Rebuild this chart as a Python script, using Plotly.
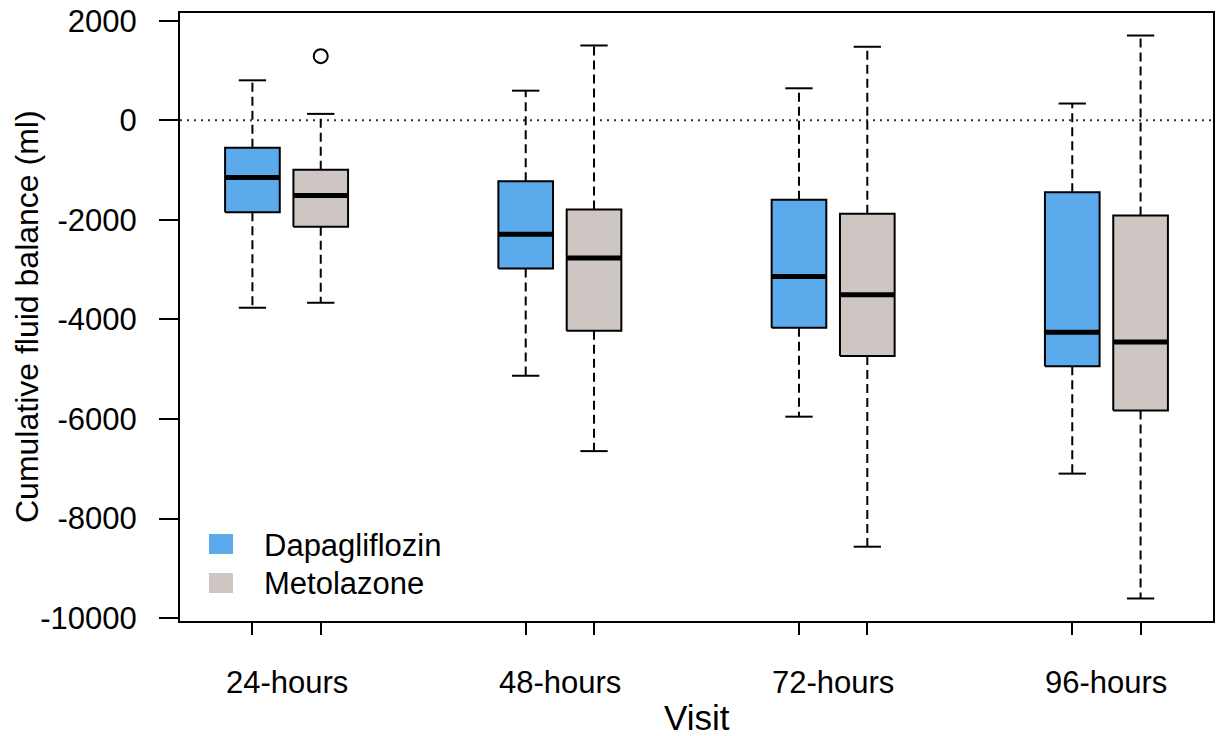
import plotly.graph_objects as go

# Box summaries (ml) per visit: whisker ends, quartiles and medians
visits = ["24-hours", "48-hours", "72-hours", "96-hours"]
groups = ["Dapagliflozin", "Metolazone"]

dapa_low = [-3764, -5130, -5952, -7096]
dapa_q1 = [-1844, -2976, -4166, -4940]
dapa_med = [-1150, -2290, -3138, -4258]
dapa_q3 = [-550, -1224, -1596, -1442]
dapa_high = [804, 596, 644, 338]

meto_low = [-3664, -6644, -8564, -9604]
meto_q1 = [-2136, -4224, -4734, -5830]
meto_med = [-1510, -2764, -3502, -4450]
meto_q3 = [-990, -1790, -1876, -1910]
meto_high = [130, 1504, 1478, 1704]

# points beyond the whiskers
meto_out_visit = ["24-hours"]
meto_out_value = [1290]

y_ticks = [-10000, -8000, -6000, -4000, -2000, 0, 2000]

colors = {"Dapagliflozin": "#5BABEC", "Metolazone": "#CEC6C2"}
FONT = "Liberation Sans, Arial, sans-serif"
BOXWEX = 0.8

series = {
    "Dapagliflozin": (dapa_low, dapa_q1, dapa_med, dapa_q3, dapa_high),
    "Metolazone": (meto_low, meto_q1, meto_med, meto_q3, meto_high),
}


def position(visit_idx, group_idx):
    return 4 * visit_idx + 1 + group_idx


fig = go.Figure()

for g_idx, grp in enumerate(groups):
    low, q1, med, q3, high = series[grp]
    for v_idx in range(len(visits)):
        x = position(v_idx, g_idx)
        hw = BOXWEX / 2
        cw = BOXWEX / 4
        # dashed whiskers
        for a, b in ((q3[v_idx], high[v_idx]), (q1[v_idx], low[v_idx])):
            fig.add_trace(go.Scatter(
                x=[x, x], y=[a, b], mode="lines",
                line=dict(color="black", width=2, dash="9px,5px"),
                hoverinfo="skip", showlegend=False))
        # staples
        for v in (high[v_idx], low[v_idx]):
            fig.add_trace(go.Scatter(
                x=[x - cw, x + cw], y=[v, v], mode="lines",
                line=dict(color="black", width=2),
                hoverinfo="skip", showlegend=False))
        # box
        fig.add_trace(go.Scatter(
            x=[x - hw, x + hw, x + hw, x - hw, x - hw],
            y=[q1[v_idx], q1[v_idx], q3[v_idx], q3[v_idx], q1[v_idx]],
            mode="lines", fill="toself", fillcolor=colors[grp],
            line=dict(color="black", width=2),
            name=grp, showlegend=False))
        # median
        fig.add_trace(go.Scatter(
            x=[x - hw, x + hw], y=[med[v_idx], med[v_idx]], mode="lines",
            line=dict(color="black", width=5),
            hoverinfo="skip", showlegend=False))

# outliers
fig.add_trace(go.Scatter(
    x=[position(visits.index(v), 1) for v in meto_out_visit],
    y=meto_out_value, mode="markers",
    marker=dict(symbol="circle-open", size=14, color="black", line=dict(width=2)),
    showlegend=False))

# axis limits with 4% padding
all_vals = dapa_low + dapa_high + meto_low + meto_high + meto_out_value
lo, hi = min(all_vals), max(all_vals)
pad = 0.04 * (hi - lo)
xs = [position(v, g) for v in range(len(visits)) for g in range(len(groups))]
xmin, xmax = min(xs) - 0.5, max(xs) + 0.5
xpad = 0.04 * (xmax - xmin)

# reference line at zero
fig.add_shape(type="line", xref="paper", x0=0, x1=1, yref="y", y0=0, y1=0,
              line=dict(color="#333333", width=2, dash="2px,5px"), layer="below")

# plot-region geometry in pixels
L, R, T, B = 180, 10, 13, 115
W, H = 1223 - L - R, 736 - T - B


def px_x(p):
    return (p - L) / W


def px_y(p):
    return (736 - B - p) / H


# visit labels under each pair
for v_idx, name in enumerate(visits):
    fig.add_annotation(x=(position(v_idx, 0) + position(v_idx, 1)) / 2, xref="x",
                       y=0, yref="paper", yanchor="middle", yshift=-61,
                       text=name, showarrow=False,
                       font=dict(family=FONT, size=31, color="black"))

fig.add_annotation(x=0.5, xref="paper", y=0, yref="paper", yanchor="middle",
                   yshift=-96, text="Visit", showarrow=False,
                   font=dict(family=FONT, size=35, color="black"))

fig.add_annotation(x=px_x(27), xref="paper", y=0.5, yref="paper",
                   xanchor="center", yanchor="middle", textangle=-90,
                   text="Cumulative fluid balance (ml)", showarrow=False,
                   font=dict(family=FONT, size=32, color="black"))

# legend
legend_rows = [(534, 554, 545), (573, 593, 583)]
for grp, (top, bot, mid) in zip(groups, legend_rows):
    fig.add_shape(type="rect", xref="paper", yref="paper",
                  x0=px_x(209), x1=px_x(233), y0=px_y(bot), y1=px_y(top),
                  fillcolor=colors[grp], line=dict(width=0))
    fig.add_annotation(x=px_x(262), xref="paper", y=px_y(mid), yref="paper",
                       xanchor="left", yanchor="middle", text=grp, showarrow=False,
                       font=dict(family=FONT, size=31, color="black"))

fig.update_layout(
    width=1223, height=736,
    margin=dict(l=L, r=R, t=T, b=B, pad=0),
    paper_bgcolor="white", plot_bgcolor="white",
    font=dict(family=FONT, color="black"),
    showlegend=False,
    xaxis=dict(
        range=[xmin - xpad, xmax + xpad],
        tickvals=xs, ticktext=["" for _ in xs],
        ticks="outside", ticklen=12, tickwidth=2, tickcolor="black",
        showline=True, linecolor="black", linewidth=2, mirror=True,
        showgrid=False, zeroline=False, fixedrange=True, automargin=False,
    ),
    yaxis=dict(
        range=[lo - pad, hi + pad],
        tickvals=y_ticks, ticktext=[str(t) for t in y_ticks],
        ticks="outside", ticklen=19, tickwidth=2, tickcolor="black",
        ticklabelstandoff=16,
        tickfont=dict(family=FONT, size=31, color="black"),
        showline=True, linecolor="black", linewidth=2, mirror=True,
        showgrid=False, zeroline=False, fixedrange=True, automargin=False,
    ),
)

fig.write_html("out.html")
